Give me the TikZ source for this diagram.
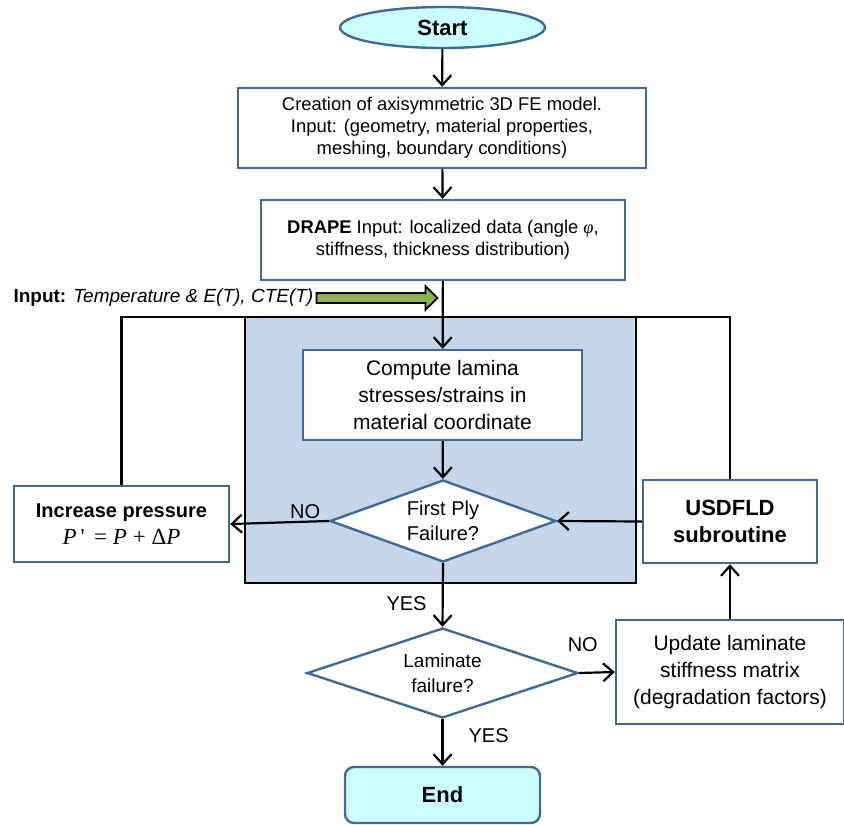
\documentclass[tikz,border=0pt]{standalone}
\usepackage{fontspec}
\setmainfont{Liberation Sans}
\newfontfamily\fbserif{Liberation Serif}
\usetikzlibrary{arrows.meta,positioning,shapes.geometric,shapes.arrows}
\definecolor{fbblue}{RGB}{65,105,150}
\definecolor{fbshade}{RGB}{197,213,234}
\definecolor{fbcyan}{RGB}{204,255,255}
\definecolor{fbgreen}{RGB}{140,180,80}

\begin{document}
\begin{tikzpicture}[x=1pt, y=-1pt,
    fbox/.style={draw=fbblue, fill=white, line width=2.4pt, align=center, inner sep=0pt},
    fdec/.style={diamond, aspect=2.7, draw=fbblue, fill=white, line width=2.4pt, align=center, inner sep=0pt},
    fterm/.style={draw=fbblue, fill=fbcyan, line width=2.4pt, inner sep=0pt, font=\fontsize{22}{26}\selectfont\bfseries},
    flink/.style={line width=2.2pt, -{Straight Barb[length=10pt,width=18pt]}},
    fline/.style={line width=2.2pt},
    flabel/.style={font=\fontsize{20}{24}\selectfont, inner sep=2pt}
  ]
  \useasboundingbox (0,0) rectangle (844,825);

  % shaded first-ply loop
  \draw[fill=fbshade, line width=2.4pt] (245,317) rectangle (636,583);

  % main column
  \node[fterm, ellipse, minimum width=205pt, minimum height=41pt] (start) at (442.5,27.5) {Start};
  \node[fbox, minimum width=408pt, minimum height=80pt, font=\fontsize{18.4}{22}\selectfont] (model) at (442,128)
    {Creation of axisymmetric 3D FE model.\\ Input: (geometry, material properties,\\ meshing, boundary conditions)};
  \node[fbox, minimum width=364pt, minimum height=80pt, font=\fontsize{18.4}{22}\selectfont] (drape) at (443,240)
    {\textbf{DRAPE} Input: localized data (angle {\fbserif\itshape φ},\\ stiffness, thickness distribution)};
  \node[fbox, minimum width=279pt, minimum height=90pt, font=\fontsize{21}{27}\selectfont] (compute) at (442.5,395)
    {Compute lamina\\ stresses/strains in\\ material coordinate};
  \node[fdec, minimum width=226pt, minimum height=82pt, font=\fontsize{20}{25}\selectfont] (ply) at (443,521)
    {First Ply\\ Failure?};
  \node[fdec, minimum width=271pt, minimum height=90pt, font=\fontsize{19}{25}\selectfont] (lam) at (442.5,673)
    {Laminate\\ failure?};
  \node[fterm, rounded corners=9pt, minimum width=195pt, minimum height=56pt] (end) at (442.5,795) {End};

  % side boxes
  \node[fbox, minimum width=215pt, minimum height=76pt] (incp) at (121.5,524)
    {{\fontsize{20}{24}\selectfont\bfseries Increase pressure}\\[7pt]
     {\fbserif\fontsize{23}{27}\selectfont\textit{P}\,'\, = \textit{P} + Δ\textit{P}}};
  \node[fbox, minimum width=174pt, minimum height=83pt, font=\fontsize{22}{27}\selectfont\bfseries] (usd) at (730,521.5)
    {USDFLD\\ subroutine};
  \node[fbox, minimum width=228pt, minimum height=104pt, font=\fontsize{21}{27}\selectfont] (upd) at (730,672)
    {Update laminate\\ stiffness matrix\\ (degradation factors)};

  % temperature input
  \node[single arrow, draw=black, fill=fbgreen, line width=1.8pt, inner xsep=0pt, inner ysep=4pt,
        minimum height=121pt, single arrow head extend=7pt,
        single arrow head indent=0pt] (tin) at (374.5,298) {};
  \node[anchor=east, inner sep=2pt, font=\fontsize{19}{23}\selectfont] (tinlabel) at (tin.west)
    {\textbf{Input:} \textit{Temperature \& E(T), CTE(T)}};

  \coordinate (join) at (drape.south |- 0,317);

  % connectors
  \draw[flink] (start) -- (model);
  \draw[flink] (model) -- (drape);
  \draw[flink] (drape) -- (compute);
  \draw[flink] (compute) -- (ply);
  \draw[flink] (ply.west) -- node[flabel, pos=0.24, above] {NO} (incp.east);
  \draw[flink] (usd.west) -- (ply.east);
  \draw[flink] (ply.south) -- node[flabel, pos=0.64, left=13pt] {YES} (lam.north);
  \draw[flink] (lam.east) -- node[flabel, pos=0.1, above=18pt] {NO} (upd.west);
  \draw[flink] (upd.north) -- (usd.south);
  \draw[flink] (lam.south) -- node[flabel, pos=0.35, right=23pt] {YES} (end.north);
  \draw[fline] (incp.north) |- (join);
  \draw[fline] (usd.north) |- (join);
\end{tikzpicture}
\end{document}
